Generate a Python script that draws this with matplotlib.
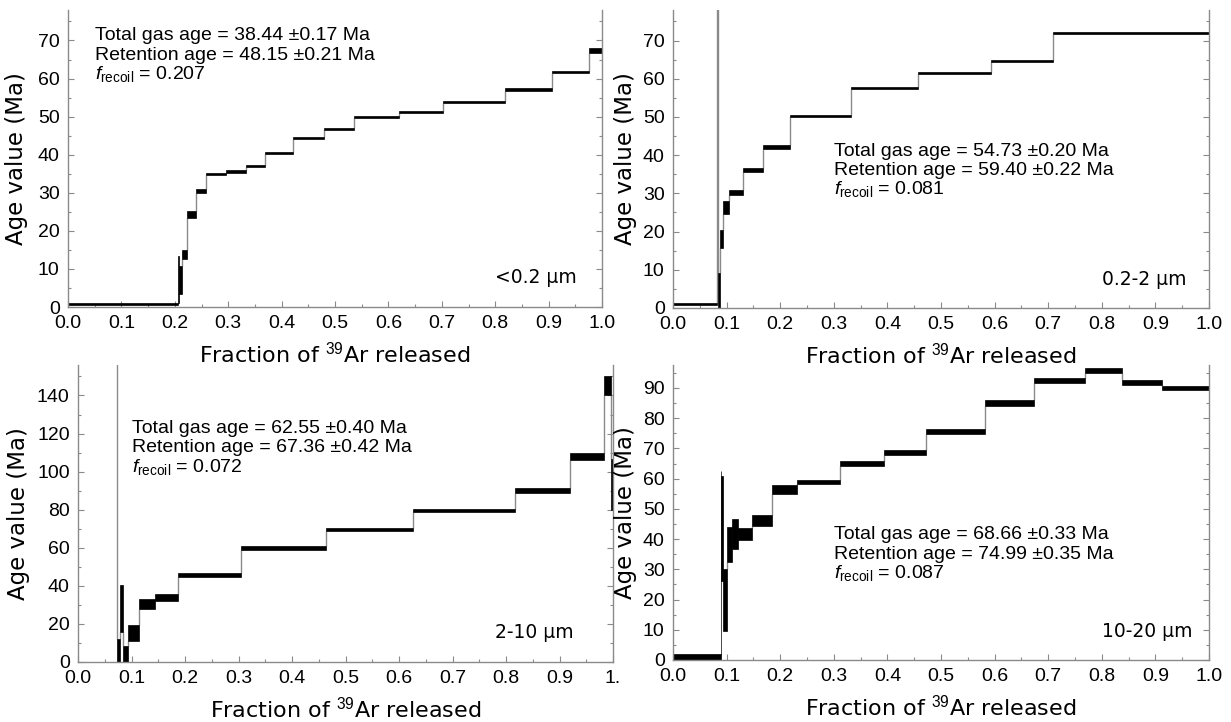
import numpy as np
import matplotlib
matplotlib.use("Agg")
import matplotlib.pyplot as plt
from matplotlib.ticker import MultipleLocator, FixedLocator, FixedFormatter
from matplotlib.transforms import offset_copy

plt.rcParams["font.family"] = ["Liberation Sans", "DejaVu Sans"]
plt.rcParams["mathtext.fontset"] = "custom"
plt.rcParams["mathtext.rm"] = "Liberation Sans"
plt.rcParams["mathtext.it"] = "Liberation Sans:italic"

# ---- step-heating data: cumulative 39Ar fraction edges, step ages and 1-sigma errors (Ma)
edges_a = [0.0, 0.206, 0.2075, 0.2135, 0.223, 0.240, 0.259, 0.295, 0.334, 0.368,
           0.422, 0.479, 0.536, 0.620, 0.703, 0.819, 0.907, 0.976, 1.0]
ages_a = [0.8, 7.15, 7.1, 13.7, 24.3, 30.5, 34.9, 35.6, 37.0, 40.4, 44.4, 46.7,
          49.95, 51.3, 53.8, 57.1, 61.7, 67.3]
errs_a = [0.3, 6.15, 3.6, 1.2, 0.8, 0.6, 0.3, 0.3, 0.35, 0.3, 0.3, 0.3, 0.3,
          0.25, 0.3, 0.3, 0.35, 0.6]

edges_b = [0.0, 0.083, 0.0833, 0.088, 0.094, 0.105, 0.130, 0.167, 0.219, 0.332,
           0.457, 0.594, 0.709, 1.0]
ages_b = [1.0, 250.0, 4.6, 18.0, 26.2, 30.25, 36.2, 42.1, 50.3, 57.5, 61.5, 64.7, 72.0]
errs_b = [0.3, 20.0, 4.6, 2.4, 1.7, 0.65, 0.55, 0.45, 0.3, 0.3, 0.3, 0.3, 0.3]

edges_c = [0.0, 0.0735, 0.0785, 0.0847, 0.0935, 0.114, 0.144, 0.1865, 0.304,
           0.4635, 0.6255, 0.816, 0.920, 0.983, 0.996, 1.0]
ages_c = [300.0, 6.1, 28.0, 4.2, 15.2, 30.4, 33.75, 45.9, 59.7, 69.65, 79.7,
          90.0, 107.85, 145.0, 93.25]
errs_c = [20.0, 6.1, 12.3, 4.2, 4.2, 2.8, 1.75, 1.1, 1.0, 0.95, 0.9, 1.25,
          1.9, 5.0, 13.5]

edges_d = [0.0, 0.089, 0.0899, 0.093, 0.1005, 0.1095, 0.1215, 0.148, 0.185,
           0.2305, 0.311, 0.394, 0.472, 0.582, 0.674, 0.769, 0.837, 0.913, 1.0]
ages_d = [0.6, 32.0, 43.5, 19.8, 38.2, 41.8, 41.55, 46.1, 56.4, 58.8, 65.15,
          68.65, 75.5, 85.0, 92.6, 95.8, 91.85, 89.9]
errs_d = [1.4, 30.5, 17.4, 10.2, 5.8, 5.0, 2.0, 1.75, 1.4, 0.6, 0.85, 0.95,
          0.8, 0.9, 0.8, 0.8, 0.95, 0.7]

sizes = ["<0.2 μm", "0.2-2 μm", "2-10 μm", "10-20 μm"]
total_gas = ["38.44 ±0.17", "54.73 ±0.20", "62.55 ±0.40", "68.66 ±0.33"]
retention = ["48.15 ±0.21", "59.40 ±0.22", "67.36 ±0.42", "74.99 ±0.35"]
f_recoil = ["0.207", "0.081", "0.072", "0.087"]

x_ticks = [round(0.1 * i, 1) for i in range(11)]
x_ticklabels = ["%.1f" % v for v in x_ticks]
x_ticklabels_c = x_ticklabels[:-1] + ["1."]

W, H = 1231, 722
fig = plt.figure(figsize=(W / 100, H / 100), dpi=100)

GRAY = "#8a8a8a"

# axes rectangles in pixels: left, right, top, bottom
boxes_px = [(68, 602, 10, 307), (673, 1209, 10, 308),
            (78, 613, 365, 662), (673, 1209, 365, 660)]

panels = [
    dict(edges=edges_a, ages=ages_a, errs=errs_a, ylim=78, major=10, minor=5,
         text_xy=(0.05, 70.0), size_xy=(0.80, 0.10), ylab_x=-0.096,
         xtl=x_ticklabels),
    dict(edges=edges_b, ages=ages_b, errs=errs_b, ylim=78, major=10, minor=5,
         text_xy=(0.30, 39.9), size_xy=(0.80, 0.095), ylab_x=-0.088,
         xtl=x_ticklabels),
    dict(edges=edges_c, ages=ages_c, errs=errs_c, ylim=156, major=20, minor=10,
         text_xy=(0.10, 120.3), size_xy=(0.78, 0.099), ylab_x=-0.112,
         xtl=x_ticklabels_c),
    dict(edges=edges_d, ages=ages_d, errs=errs_d, ylim=97.6, major=10, minor=5,
         text_xy=(0.30, 40.0), size_xy=(0.80, 0.095), ylab_x=-0.088,
         xtl=x_ticklabels),
]

for k, (p, (l, r, t, b)) in enumerate(zip(panels, boxes_px)):
    ax = fig.add_axes([l / W, 1 - b / H, (r - l) / W, (b - t) / H])
    edges = np.asarray(p["edges"])
    ages = np.asarray(p["ages"])
    errs = np.asarray(p["errs"])
    lo = ages - errs
    hi = ages + errs

    # connecting lines between neighbouring steps
    xs, y0s, y1s = [], [], []
    for i in range(len(ages) - 1):
        if hi[i] < lo[i + 1]:
            xs.append(edges[i + 1]); y0s.append(hi[i]); y1s.append(lo[i + 1])
        elif hi[i + 1] < lo[i]:
            xs.append(edges[i + 1]); y0s.append(hi[i + 1]); y1s.append(lo[i])
    ax.vlines(xs, y0s, y1s, color=GRAY, lw=1.0, zorder=1)

    # age boxes (2-sigma height)
    ax.bar(edges[:-1], hi - lo, width=np.diff(edges), bottom=lo, align="edge",
           color="black", edgecolor="black", linewidth=0.5, zorder=2)

    ax.set_xlim(0, 1.0)
    ax.set_ylim(0, p["ylim"])
    ax.xaxis.set_major_locator(FixedLocator(x_ticks))
    ax.xaxis.set_major_formatter(FixedFormatter(p["xtl"]))
    ax.xaxis.set_minor_locator(MultipleLocator(0.05))
    ax.yaxis.set_major_locator(MultipleLocator(p["major"]))
    ax.yaxis.set_minor_locator(MultipleLocator(p["minor"]))

    for side in ("left", "right", "bottom"):
        ax.spines[side].set_color(GRAY)
        ax.spines[side].set_linewidth(1.0)
    ax.spines["top"].set_visible(False)
    ax.tick_params(which="both", direction="in", color=GRAY, left=True,
                   right=True, bottom=True, top=False, labelsize=14)
    ax.tick_params(which="major", length=4, width=0.8)
    ax.tick_params(which="minor", length=2.5, width=0.8)
    ax.tick_params(axis="x", pad=5.5)
    ax.tick_params(axis="y", pad=6)

    ax.set_ylabel("Age value (Ma)", fontsize=16.5, family="DejaVu Sans")
    ax.yaxis.set_label_coords(p["ylab_x"], 0.5)
    ax.yaxis.label.set_va("center")
    ax.set_xlabel(r"Fraction of $^{39}$Ar released", fontsize=16,
                  family="DejaVu Sans")
    ax.xaxis.set_label_coords(0.5, -47 / (b - t))
    ax.xaxis.label.set_va("center")

    tx, ty = p["text_xy"]
    lines = ["Total gas age = %s Ma" % total_gas[k],
             "Retention age = %s Ma" % retention[k],
             r"$\mathit{f}_{\mathrm{recoil}}$ = %s" % f_recoil[k]]
    base = ax.transData
    for j, s in enumerate(lines):
        tr = offset_copy(base, fig=fig, x=0, y=-14.0 * j, units="points")
        ax.text(tx, ty, s, transform=tr, fontsize=14, ha="left",
                va="baseline")

    sx, sy = p["size_xy"]
    ax.text(sx, sy, sizes[k], transform=ax.transAxes, fontsize=13.5,
            family="DejaVu Sans", ha="left", va="center")

fig.savefig("out.png", dpi=100)
